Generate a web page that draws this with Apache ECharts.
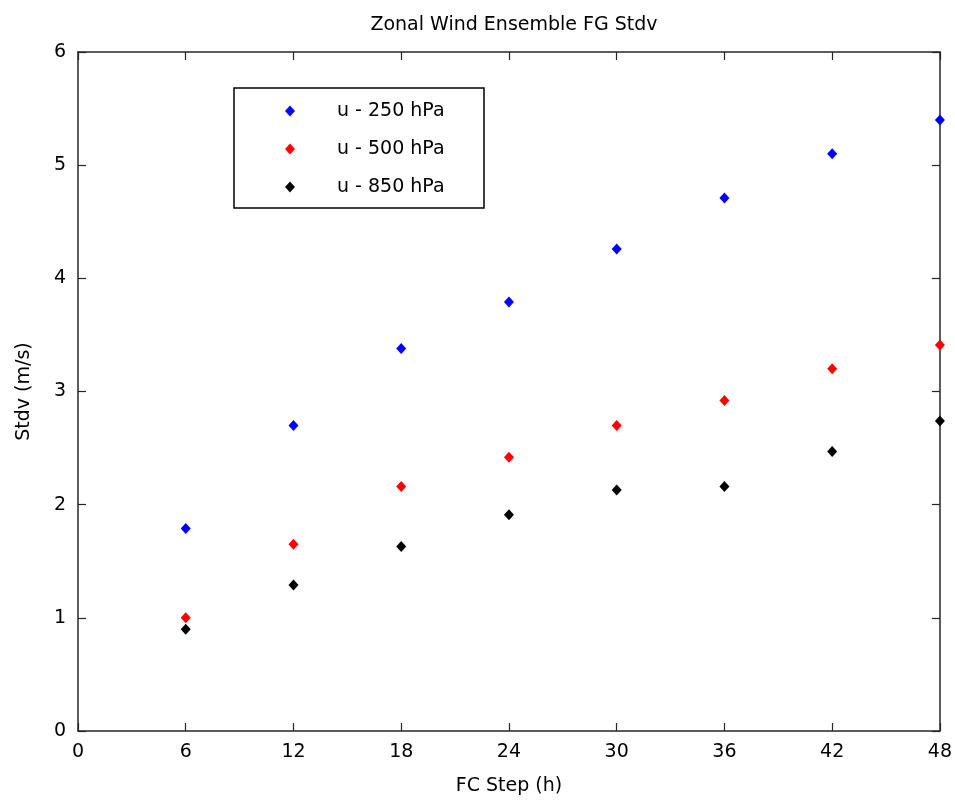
<!DOCTYPE html>
<html>
<head>
<meta charset="utf-8">
<script src="https://cdn.jsdelivr.net/npm/echarts@6/dist/echarts.min.js"></script>
<style>html,body{margin:0;padding:0;background:#fff;}#chart{width:955px;height:803px;}</style>
</head>
<body>
<div id="chart"></div>
<script>
const steps = [6, 12, 18, 24, 30, 36, 42, 48];
const u250 = [1.79, 2.70, 3.38, 3.79, 4.26, 4.71, 5.10, 5.40];
const u500 = [1.00, 1.65, 2.16, 2.42, 2.70, 2.92, 3.20, 3.41];
const u850 = [0.90, 1.29, 1.63, 1.91, 2.13, 2.16, 2.47, 2.74];
const seriesNames = ['u - 250 hPa', 'u - 500 hPa', 'u - 850 hPa'];
const seriesColors = ['#0000ff', '#ff0000', '#000000'];
const xTicks = [0, 6, 12, 18, 24, 30, 36, 42, 48];
const yTicks = [0, 1, 2, 3, 4, 5, 6];

const FONT = 'DejaVu Sans';
const AX = '#262626';
const pairs = v => steps.map((s, i) => [s, v[i]]);
const allValues = [u250, u500, u850];

const baseAxis = {
  axisLine: { show: true, onZero: false, lineStyle: { color: AX, width: 1.5 } },
  axisTick: { show: true, inside: true, length: 8, lineStyle: { color: AX, width: 1.2 } },
  splitLine: { show: false },
};

const chart = echarts.init(document.getElementById('chart'));
chart.setOption({
  animation: false,
  backgroundColor: '#ffffff',
  title: {
    text: 'Zonal Wind Ensemble FG Stdv',
    left: 509, top: 11, textAlign: 'center',
    textStyle: { fontFamily: FONT, fontSize: 19, fontWeight: 'normal', color: '#000' }
  },
  grid: { left: 78, right: 15, top: 52, bottom: 72 },
  legend: {
    orient: 'vertical',
    left: 234, top: 88,
    backgroundColor: '#fff',
    borderColor: '#000', borderWidth: 1.5,
    padding: [13, 14, 11, 51],
    itemWidth: 10, itemHeight: 11, itemGap: 18,
    data: seriesNames,
    textStyle: { fontFamily: FONT, fontSize: 19, color: '#000', lineHeight: 20, width: 133, padding: [0, 0, 0, 37] }
  },
  xAxis: [
    Object.assign({}, baseAxis, {
      type: 'value', min: 0, max: 48, interval: 6,
      name: 'FC Step (h)', nameLocation: 'middle', nameGap: 46,
      nameTextStyle: { fontFamily: FONT, fontSize: 19, color: '#000' },
      axisLabel: { fontFamily: FONT, fontSize: 19, color: '#000', margin: 12,
        formatter: v => xTicks.indexOf(v) >= 0 ? String(v) : '' }
    }),
    Object.assign({}, baseAxis, {
      type: 'value', min: 0, max: 48, interval: 6, position: 'top',
      axisLabel: { show: false }
    })
  ],
  yAxis: [
    Object.assign({}, baseAxis, {
      type: 'value', min: 0, max: 6, interval: 1,
      name: 'Stdv (m/s)', nameLocation: 'middle', nameGap: 44,
      nameTextStyle: { fontFamily: FONT, fontSize: 19, color: '#000' },
      axisLabel: { fontFamily: FONT, fontSize: 19, color: '#000', margin: 12,
        formatter: v => yTicks.indexOf(v) >= 0 ? String(v) : '' }
    }),
    Object.assign({}, baseAxis, {
      type: 'value', min: 0, max: 6, interval: 1, position: 'right',
      axisLabel: { show: false }
    })
  ],
  series: seriesNames.map((n, i) => ({
    name: n,
    type: 'scatter',
    symbol: 'diamond',
    symbolSize: [10, 11],
    itemStyle: { color: seriesColors[i], opacity: 1 },
    data: pairs(allValues[i]),
    z: 5
  }))
});
</script>
</body>
</html>
